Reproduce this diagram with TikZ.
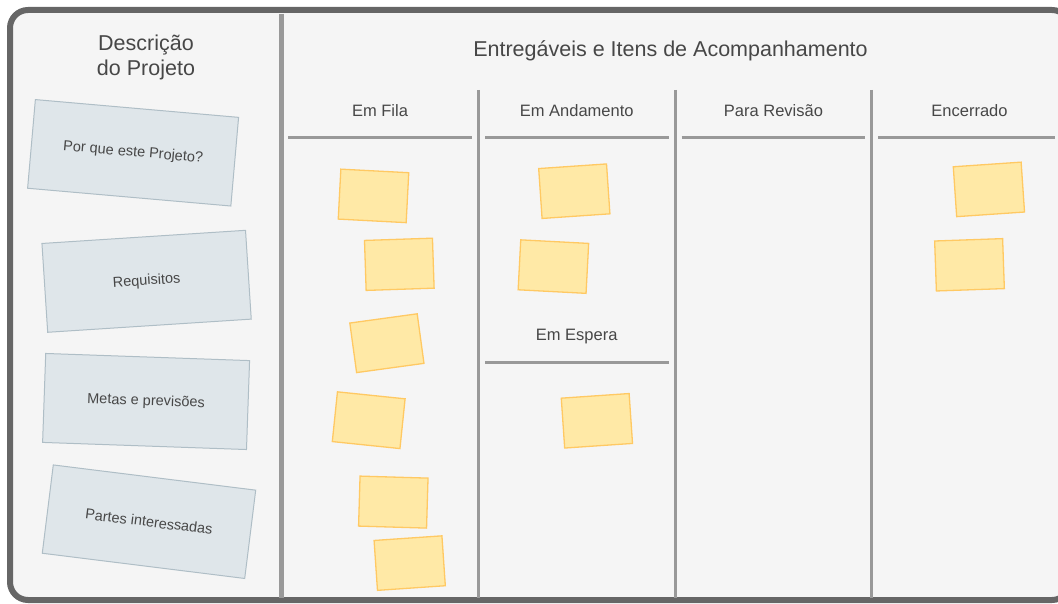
\documentclass[tikz,border=0pt]{standalone}
\usepackage{fontspec}
\setmainfont{Liberation Sans}
\definecolor{bg}{HTML}{F5F5F5}
\definecolor{frame}{HTML}{666666}
\definecolor{divider}{HTML}{999999}
\definecolor{boxfill}{HTML}{DFE6EA}
\definecolor{boxline}{HTML}{AFBEC6}
\definecolor{stickyfill}{HTML}{FFE9A6}
\definecolor{stickyline}{HTML}{FFC963}
\definecolor{txt}{HTML}{474747}
\tikzset{
  infobox/.style={draw=boxline, fill=boxfill, line width=1pt, minimum width=204pt, minimum height=89pt, inner sep=0pt, text=txt, font=\fontsize{14.5}{17}\selectfont},
  sticky/.style={draw=stickyline, fill=stickyfill, line width=1.3pt, minimum width=68pt, minimum height=50pt, inner sep=0pt},
  header/.style={anchor=base, text=txt, font=\fontsize{16.5}{19}\selectfont, inner sep=0pt},
  bigtitle/.style={anchor=base, text=txt, font=\fontsize{21.5}{25}\selectfont, inner sep=0pt},
  coldiv/.style={draw=divider, line width=3pt},
  headline/.style={draw=divider, line width=3pt},
}
\begin{document}
\begin{tikzpicture}[x=1pt, y=-1pt]
\useasboundingbox (0,0) rectangle (1058,604);
\clip (0,0) rectangle (1058,604);
% frame
\draw[frame, fill=bg, line width=6pt, rounded corners=18pt] (10,10) rectangle (1070,600);
% main divider
\coordinate (md1) at (281.5,14);
\coordinate (md2) at (281.5,598);
\draw[draw=divider, line width=4.5pt] (md1) -- (md2);
% column dividers
\foreach \x/\n in {478.5/a, 675/b, 871.5/c}{
  \coordinate (cd\n1) at (\x,90);
  \coordinate (cd\n2) at (\x,598);
  \draw[coldiv] (cd\n1) -- (cd\n2);
}
% header underlines
\coordinate (h1a) at (288,138); \coordinate (h1b) at (471.5,138);
\coordinate (h2a) at (485,138); \coordinate (h2b) at (668.5,138);
\coordinate (h3a) at (681.5,138); \coordinate (h3b) at (865,138);
\coordinate (h4a) at (878,138); \coordinate (h4b) at (1055,138);
\coordinate (h5a) at (485,362); \coordinate (h5b) at (668.5,362);
\draw[headline] (h1a) -- (h1b);
\draw[headline] (h2a) -- (h2b);
\draw[headline] (h3a) -- (h3b);
\draw[headline] (h4a) -- (h4b);
\draw[headline] (h5a) -- (h5b);
% titles
\node[bigtitle] (desc1) at (146,51) {Descrição};
\node[bigtitle] (desc2) at (146,76) {do Projeto};
\node[bigtitle] (title) at (670.5,56.5) {Entregáveis e Itens de Acompanhamento};
\node[header] (hfila) at (380,116.7) {Em Fila};
\node[header] (handa) at (576.7,116.7) {Em Andamento};
\node[header] (hrev) at (773.5,116.7) {Para Revisão};
\node[header] (henc) at (969.5,116.7) {Encerrado};
\node[header] (hesp) at (576.7,340.7) {Em Espera};
% description boxes
\node[infobox, rotate=-5] (why) at (133.1,152.8) {Por que este Projeto?};
\node[infobox, rotate=3.7] (req) at (146.6,281.3) {Requisitos};
\node[infobox, rotate=-2] (goals) at (146.1,401.5) {Metas e previsões};
\node[infobox, rotate=-7.1] (stake) at (149,521.7) {Partes interessadas};
% sticky notes
\node[sticky, rotate=-3] (s1) at (373.5,195.9) {};
\node[sticky, rotate=1.9] (s2) at (399.3,264.3) {};
\node[sticky, rotate=7.8] (s3) at (386.9,343.2) {};
\node[sticky, rotate=-5.9] (s4) at (368.7,420.2) {};
\node[sticky, rotate=-1.7] (s5) at (393.3,502.1) {};
\node[sticky, rotate=3.9] (s6) at (409.7,563.1) {};
\node[sticky, rotate=3.9] (s7) at (574.3,191.2) {};
\node[sticky, rotate=-3] (s8) at (553.4,266.6) {};
\node[sticky, rotate=3.9] (s9) at (596.9,420.8) {};
\node[sticky, rotate=3.9] (s10) at (988.9,189.4) {};
\node[sticky, rotate=2] (s11) at (969.5,264.8) {};
\end{tikzpicture}
\end{document}
